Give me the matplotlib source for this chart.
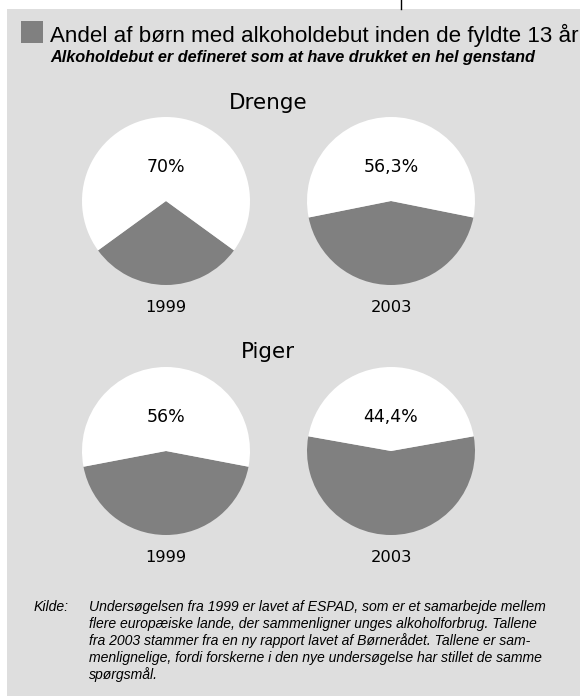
import matplotlib.pyplot as plt
from matplotlib.patches import Rectangle

W, H = 580, 696

groups = ["Drenge", "Piger"]
years = ["1999", "2003"]
# share shown in white (label) per group and year
white_pct = [[70.0, 56.3], [56.0, 44.4]]
pct_labels = [["70%", "56,3%"], ["56%", "44,4%"]]

title = "Andel af børn med alkoholdebut inden de fyldte 13 år"
subtitle = "Alkoholdebut er defineret som at have drukket en hel genstand"
source_lines = [
    "Undersøgelsen fra 1999 er lavet af ESPAD, som er et samarbejde mellem",
    "flere europæiske lande, der sammenligner unges alkoholforbrug. Tallene",
    "fra 2003 stammer fra en ny rapport lavet af Børnerådet. Tallene er sam-",
    "menlignelige, fordi forskerne i den nye undersøgelse har stillet de samme",
    "spørgsmål.",
]

bg = "#dedede"
grey = "#808080"

fig = plt.figure(figsize=(W / 100, H / 100), dpi=100)
fig.patch.set_facecolor("white")


def fx(x):
    return x / W


def fy(y):
    return 1 - y / H


# grey panel and the small tick line above it
fig.add_artist(Rectangle((fx(7), 0), 1 - fx(7), fy(9), transform=fig.transFigure,
                         facecolor=bg, edgecolor="none", zorder=0))
fig.add_artist(plt.Line2D([fx(401), fx(401)], [fy(0), fy(9)], transform=fig.transFigure,
                          color="black", lw=1))

# legend square + heading
fig.add_artist(Rectangle((fx(21), fy(43)), fx(22), 22 / H, transform=fig.transFigure,
                         facecolor=grey, edgecolor="none"))
fig.text(fx(50), fy(42), title, fontsize=16.1, family="Liberation Sans",
         ha="left", va="baseline")
fig.text(fx(50), fy(62), subtitle, fontsize=11.7, family="Liberation Sans",
         style="italic", weight="bold", ha="left", va="baseline")

centers_x = [166, 391]
centers_y = [201, 451]
radius = 84
group_y = [103, 352]
year_y = [308, 557]

for gi, group in enumerate(groups):
    fig.text(fx(268), fy(group_y[gi]), group, fontsize=15.5, family="DejaVu Sans",
             ha="center", va="center")
    for yi, year in enumerate(years):
        cx, cy = centers_x[yi], centers_y[gi]
        ax = fig.add_axes([fx(cx - radius), fy(cy + radius), 2 * radius / W, 2 * radius / H])
        w = white_pct[gi][yi]
        g = 100 - w
        ax.pie([g, w], colors=[grey, "white"], startangle=270 - g * 3.6 / 2,
               counterclock=True, wedgeprops=dict(linewidth=0))
        ax.set_xlim(-1, 1)
        ax.set_ylim(-1, 1)
        ax.set_aspect("auto")
        ax.axis("off")
        ax.text(0, 0.4, pct_labels[gi][yi], fontsize=12.5, family="DejaVu Sans",
                ha="center", va="center")
        fig.text(fx(cx), fy(year_y[gi]), year, fontsize=11.7, family="DejaVu Sans",
                 ha="center", va="center")

fig.text(fx(34), fy(611), "Kilde:", fontsize=10.1, family="Liberation Sans",
         style="italic", ha="left", va="baseline")
for i, line in enumerate(source_lines):
    fig.text(fx(89), fy(611 + 17 * i), line, fontsize=10.1, family="Liberation Sans",
             style="italic", ha="left", va="baseline")

fig.savefig("out.png", dpi=100, facecolor=fig.get_facecolor())
